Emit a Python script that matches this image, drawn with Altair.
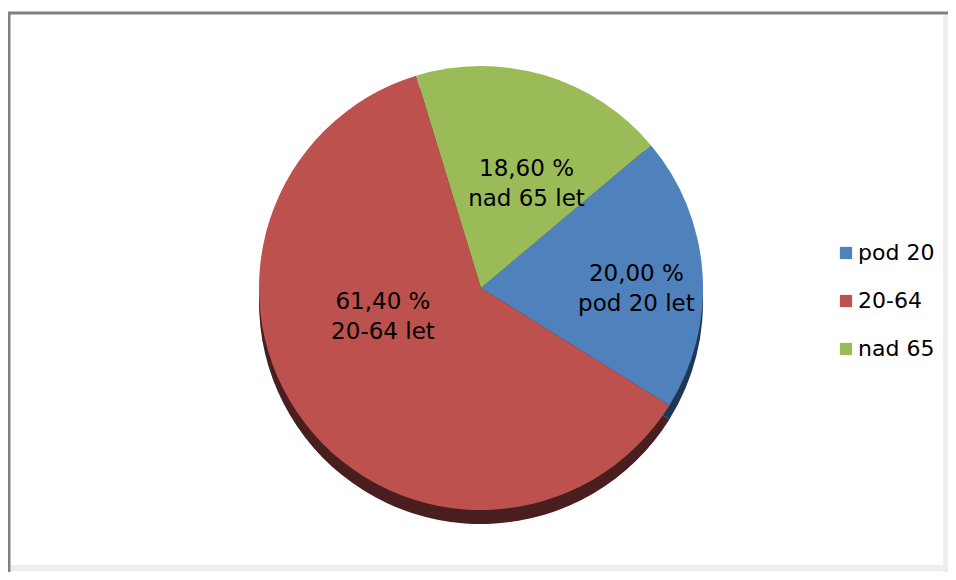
import math
import altair as alt
import pandas as pd

# ---- data ----
categories = ["nad 65", "pod 20", "20-64"]          # clockwise drawing order
values = [18.60, 20.00, 61.40]
label_lines = [["18,60 %", "nad 65 let"], ["20,00 %", "pod 20 let"], ["61,40 %", "20-64 let"]]
legend_order = ["pod 20", "20-64", "nad 65"]

# ---- style ----
colors = {"pod 20": "#4F81BD", "20-64": "#BC514E", "nad 65": "#9BBB59"}
dark_colors = {"pod 20": "#1E3756", "20-64": "#4A1E1E", "nad 65": "#4B5C2A"}
start = math.radians(-17)
CX, CY, R, DEPTH = 473, 280, 222, 14
label_angle_deg = [21, 85, -98]
label_radius = [127, 156, 99]
FONT = "DejaVu Sans"

df = pd.DataFrame({
    "cat": categories,
    "value": values,
    "order": list(range(len(categories))),
    "lines": label_lines,
    "lab_theta": [math.radians(a) for a in label_angle_deg],
    "lab_r": label_radius,
})

theta_scale = alt.Scale(range=[start, start + 2 * math.pi])

shadow = alt.Chart(df).mark_arc(stroke=None).encode(
    theta=alt.Theta("value:Q", stack=True, scale=theta_scale),
    order=alt.Order("order:Q"),
    color=alt.Color("cat:N", scale=alt.Scale(domain=legend_order,
                    range=[dark_colors[c] for c in legend_order]), legend=None),
    x=alt.value(CX), y=alt.value(CY + DEPTH),
    radius=alt.value(R),
)

pie = alt.Chart(df).mark_arc(stroke=None).encode(
    theta=alt.Theta("value:Q", stack=True, scale=theta_scale),
    order=alt.Order("order:Q"),
    color=alt.Color("cat:N", scale=alt.Scale(domain=legend_order,
                    range=[colors[c] for c in legend_order]),
                    sort=legend_order,
                    legend=alt.Legend(title=None, orient="none", legendX=827, legendY=234,
                                      symbolType="square", symbolSize=150,
                                      symbolStrokeWidth=0,
                                      labelFont=FONT, labelFontSize=22, labelColor="#000000",
                                      labelOffset=1, rowPadding=26, padding=0)),
    x=alt.value(CX), y=alt.value(CY),
    radius=alt.value(R),
)

labels = alt.Chart(df).mark_text(font=FONT, fontSize=23, color="#000000",
                                 align="center", baseline="middle", lineHeight=30).encode(
    theta=alt.Theta("lab_theta:Q", scale=None),
    radius=alt.Radius("lab_r:Q", scale=None),
    x=alt.value(CX), y=alt.value(CY),
    text="lines",
)

frame_df = pd.DataFrame({"k": [0]})
top_line = alt.Chart(frame_df).mark_rule(color="#808080", strokeWidth=3).encode(
    x=alt.value(0), x2=alt.value(940), y=alt.value(5))
left_line = alt.Chart(frame_df).mark_rule(color="#808080", strokeWidth=3).encode(
    x=alt.value(1), y=alt.value(4), y2=alt.value(564))
right_sh = alt.Chart(frame_df).mark_rule(color="#EEEEEE", strokeWidth=6).encode(
    x=alt.value(938), y=alt.value(7), y2=alt.value(564))
bottom_sh = alt.Chart(frame_df).mark_rule(color="#EEEEEE", strokeWidth=6).encode(
    x=alt.value(3), x2=alt.value(940), y=alt.value(560))

chart = alt.layer(right_sh, bottom_sh, top_line, left_line, shadow, pie, labels).resolve_scale(
    color="independent", theta="shared"
).properties(
    width=940, height=564, padding=0, autosize=alt.AutoSizeParams(type="none"),
    background="white",
).configure_view(stroke=None)

chart.save("out.html", embed_options={"renderer": "svg", "actions": False})
